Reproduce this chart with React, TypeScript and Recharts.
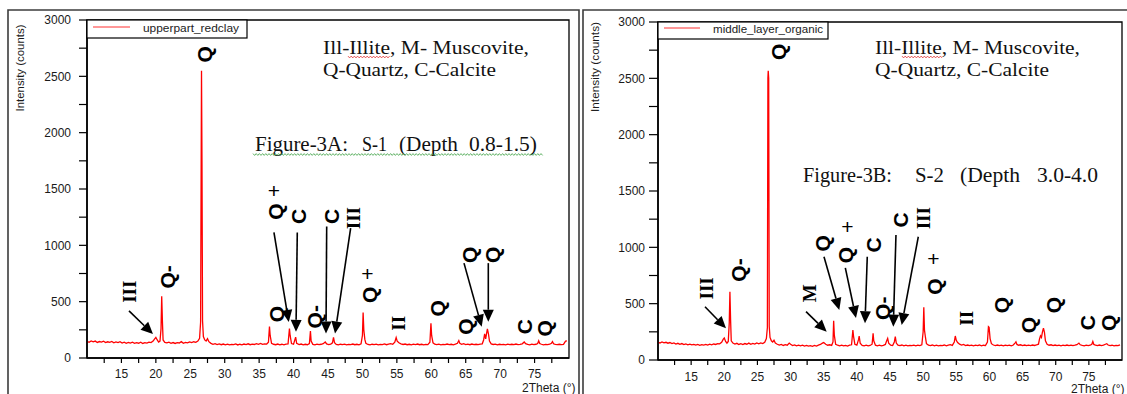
import React from 'react';
import { LineChart, Line, XAxis, YAxis, ReferenceArea, ReferenceDot, ReferenceLine } from 'recharts';

// ---- data: [2theta, counts] ----
const redclayPattern: [number, number][] = [
  [10.0, 148], [10.3, 140], [10.6, 152], [10.9, 143], [11.2, 150], [11.5, 138], [11.8, 146], [12.1, 141],
  [12.4, 149], [12.7, 137], [13.0, 144], [13.3, 139], [13.6, 147], [13.9, 135], [14.2, 142], [14.5, 136],
  [14.8, 144], [15.1, 133], [15.4, 140], [15.7, 131], [16.0, 139], [16.3, 132], [16.6, 140], [16.9, 130],
  [17.2, 137], [17.5, 131], [17.8, 140], [18.1, 129], [18.4, 136], [18.7, 132], [19.0, 141], [19.3, 137],
  [19.6, 150], [19.8, 168], [20.0, 182], [20.2, 160], [20.4, 142], [20.6, 150], [20.75, 260], [20.85, 548],
  [20.95, 330], [21.05, 160], [21.3, 138], [21.6, 134], [21.9, 141], [22.2, 130], [22.5, 137], [22.8, 129],
  [23.1, 136], [23.4, 133], [23.7, 145], [24.0, 131], [24.3, 138], [24.6, 134], [24.9, 142], [25.2, 136],
  [25.5, 144], [25.8, 139], [26.1, 150], [26.35, 175], [26.5, 320], [26.58, 1720], [26.63, 2550], [26.7, 1720],
  [26.78, 330], [26.9, 190], [27.1, 160], [27.3, 150], [27.5, 172], [27.7, 145], [28.0, 130], [28.3, 122],
  [28.6, 127], [28.9, 119], [29.2, 125], [29.5, 118], [29.8, 124], [30.1, 117], [30.4, 123], [30.7, 116],
  [31.0, 121], [31.3, 118], [31.6, 125], [31.9, 116], [32.2, 122], [32.5, 117], [32.8, 124], [33.1, 119],
  [33.4, 126], [33.7, 118], [34.0, 123], [34.3, 120], [34.6, 128], [34.9, 122], [35.2, 130], [35.5, 121],
  [35.8, 126], [36.1, 124], [36.35, 140], [36.5, 280], [36.6, 200], [36.8, 130], [37.1, 122], [37.4, 118],
  [37.7, 124], [38.0, 117], [38.3, 122], [38.6, 116], [38.9, 123], [39.2, 125], [39.4, 262], [39.5, 200],
  [39.7, 128], [40.0, 122], [40.3, 185], [40.45, 130], [40.8, 119], [41.1, 124], [41.4, 117], [41.7, 122],
  [42.0, 118], [42.3, 128], [42.45, 240], [42.55, 150], [42.8, 121], [43.1, 117], [43.4, 123], [43.7, 118],
  [44.0, 122], [44.3, 127], [44.6, 142], [44.8, 125], [45.1, 119], [45.4, 124], [45.65, 135], [45.8, 182],
  [45.95, 135], [46.2, 120], [46.5, 116], [46.8, 122], [47.1, 118], [47.4, 123], [47.7, 117], [48.0, 121],
  [48.3, 119], [48.6, 124], [48.9, 118], [49.2, 122], [49.5, 117], [49.8, 125], [50.0, 200], [50.1, 403],
  [50.2, 250], [50.35, 165], [50.5, 130], [50.8, 120], [51.1, 116], [51.4, 122], [51.7, 118], [52.0, 123],
  [52.3, 117], [52.6, 121], [52.9, 119], [53.2, 125], [53.5, 118], [53.8, 123], [54.1, 127], [54.4, 122],
  [54.7, 140], [54.9, 182], [55.05, 150], [55.3, 135], [55.6, 126], [55.9, 120], [56.2, 124], [56.5, 118],
  [56.8, 122], [57.1, 117], [57.4, 123], [57.7, 119], [58.0, 124], [58.3, 118], [58.6, 122], [58.9, 117],
  [59.2, 121], [59.5, 119], [59.8, 140], [59.95, 308], [60.05, 200], [60.25, 135], [60.5, 122], [60.8, 118],
  [61.1, 123], [61.4, 117], [61.7, 121], [62.0, 118], [62.3, 124], [62.6, 119], [62.9, 122], [63.2, 117],
  [63.5, 123], [63.8, 130], [64.0, 155], [64.15, 130], [64.4, 122], [64.7, 127], [65.0, 119], [65.3, 123],
  [65.6, 118], [65.9, 124], [66.2, 119], [66.5, 122], [66.8, 118], [67.1, 123], [67.4, 126], [67.6, 160],
  [67.75, 215], [67.9, 170], [68.05, 225], [68.15, 258], [68.3, 215], [68.45, 150], [68.7, 125], [69.0, 120],
  [69.3, 123], [69.6, 117], [69.9, 122], [70.2, 118], [70.5, 121], [70.8, 117], [71.1, 123], [71.4, 118],
  [71.7, 122], [72.0, 119], [72.3, 124], [72.6, 118], [72.9, 121], [73.2, 126], [73.5, 142], [73.7, 128],
  [74.0, 121], [74.3, 117], [74.6, 123], [74.9, 118], [75.2, 122], [75.45, 128], [75.6, 152], [75.75, 128],
  [76.0, 122], [76.3, 117], [76.6, 121], [76.9, 118], [77.2, 122], [77.45, 130], [77.6, 146], [77.75, 126],
  [78.0, 120], [78.3, 118], [78.6, 122], [78.9, 119], [79.2, 121], [79.5, 150], [79.7, 152],
];

const organicPattern: [number, number][] = [
  [10.0, 158], [10.3, 150], [10.6, 160], [10.9, 152], [11.2, 157], [11.5, 149], [11.8, 155], [12.1, 146],
  [12.4, 152], [12.7, 141], [13.0, 148], [13.3, 139], [13.6, 146], [13.9, 137], [14.2, 143], [14.5, 135],
  [14.8, 141], [15.1, 134], [15.4, 139], [15.7, 132], [16.0, 138], [16.3, 131], [16.6, 137], [16.9, 133],
  [17.2, 139], [17.5, 132], [17.8, 140], [18.1, 135], [18.4, 142], [18.7, 138], [19.0, 146], [19.3, 144],
  [19.6, 158], [19.85, 185], [20.0, 195], [20.2, 165], [20.4, 150], [20.6, 165], [20.75, 330], [20.85, 606],
  [20.95, 360], [21.05, 170], [21.3, 150], [21.6, 141], [21.9, 148], [22.2, 138], [22.5, 145], [22.8, 137],
  [23.1, 146], [23.4, 140], [23.7, 150], [24.0, 139], [24.3, 147], [24.6, 141], [24.9, 151], [25.2, 143],
  [25.5, 152], [25.8, 146], [26.1, 158], [26.35, 190], [26.5, 287], [26.58, 2500], [26.63, 2568], [26.7, 2500],
  [26.78, 300], [26.9, 200], [27.1, 170], [27.3, 160], [27.5, 175], [27.7, 150], [28.0, 140], [28.3, 132],
  [28.6, 138], [28.9, 129], [29.2, 136], [29.5, 131], [29.8, 150], [30.0, 140], [30.3, 128], [30.6, 134],
  [30.9, 126], [31.2, 132], [31.5, 125], [31.8, 131], [32.1, 124], [32.4, 130], [32.7, 123], [33.0, 128],
  [33.3, 122], [33.6, 129], [33.9, 124], [34.2, 132], [34.5, 138], [34.8, 150], [35.0, 155], [35.3, 140],
  [35.6, 131], [35.9, 135], [36.2, 130], [36.4, 160], [36.5, 349], [36.6, 220], [36.8, 140], [37.1, 131],
  [37.4, 126], [37.7, 132], [38.0, 125], [38.3, 130], [38.6, 124], [38.9, 131], [39.2, 135], [39.4, 266],
  [39.5, 210], [39.7, 140], [40.0, 132], [40.25, 180], [40.35, 213], [40.5, 150], [40.8, 130], [41.1, 126],
  [41.4, 132], [41.7, 125], [42.0, 129], [42.3, 140], [42.45, 237], [42.55, 170], [42.8, 132], [43.1, 126],
  [43.4, 131], [43.7, 125], [44.0, 130], [44.3, 138], [44.5, 170], [44.65, 192], [44.8, 150], [45.1, 131],
  [45.4, 128], [45.65, 160], [45.8, 207], [45.95, 150], [46.2, 131], [46.5, 127], [46.8, 133], [47.1, 126],
  [47.4, 131], [47.7, 125], [48.0, 130], [48.3, 127], [48.6, 132], [48.9, 126], [49.2, 131], [49.5, 127],
  [49.8, 134], [50.0, 250], [50.1, 467], [50.2, 266], [50.35, 200], [50.5, 145], [50.8, 132], [51.1, 127],
  [51.4, 133], [51.7, 126], [52.0, 131], [52.3, 125], [52.6, 130], [52.9, 127], [53.2, 133], [53.5, 126],
  [53.8, 131], [54.1, 136], [54.4, 130], [54.7, 160], [54.85, 213], [55.0, 175], [55.2, 155], [55.5, 140],
  [55.8, 133], [56.1, 138], [56.4, 128], [56.7, 133], [57.0, 127], [57.3, 132], [57.6, 126], [57.9, 131],
  [58.2, 127], [58.5, 133], [58.8, 126], [59.1, 131], [59.4, 128], [59.7, 160], [59.85, 296], [59.95, 290],
  [60.1, 190], [60.3, 145], [60.6, 133], [60.9, 128], [61.2, 133], [61.5, 127], [61.8, 131], [62.1, 126],
  [62.4, 132], [62.7, 127], [63.0, 131], [63.3, 126], [63.6, 133], [63.85, 150], [64.0, 161], [64.15, 138],
  [64.4, 131], [64.7, 135], [65.0, 128], [65.3, 133], [65.6, 127], [65.9, 132], [66.2, 128], [66.5, 133],
  [66.8, 129], [67.1, 134], [67.4, 140], [67.55, 185], [67.7, 215], [67.85, 200], [68.0, 250], [68.15, 282],
  [68.3, 245], [68.45, 170], [68.7, 140], [69.0, 131], [69.3, 135], [69.6, 128], [69.9, 133], [70.2, 127],
  [70.5, 132], [70.8, 126], [71.1, 131], [71.4, 127], [71.7, 133], [72.0, 128], [72.3, 132], [72.6, 127],
  [72.9, 131], [73.2, 136], [73.5, 150], [73.7, 135], [74.0, 130], [74.3, 126], [74.6, 132], [74.9, 127],
  [75.2, 131], [75.45, 140], [75.6, 165], [75.75, 138], [76.0, 131], [76.3, 127], [76.6, 133], [76.9, 128],
  [77.2, 132], [77.5, 140], [77.7, 145], [77.9, 133], [78.2, 128], [78.5, 131], [78.8, 126], [79.1, 130],
  [79.4, 128], [79.7, 135],
];

const xTicks = [12.5, 15, 17.5, 20, 22.5, 25, 27.5, 30, 32.5, 35, 37.5, 40, 42.5, 45, 47.5, 50, 52.5, 55, 57.5, 60, 62.5, 65, 67.5, 70, 72.5, 75, 77.5];
const xTickLabels = [15, 20, 25, 30, 35, 40, 45, 50, 55, 60, 65, 70, 75];
const yTicks = [0, 250, 500, 750, 1000, 1250, 1500, 1750, 2000, 2250, 2500, 2750, 3000];
const yTickLabels = [0, 500, 1000, 1500, 2000, 2500, 3000];

type PeakLabel = { text: string; x: number; y: number; kind: 'sans' | 'serif' | 'plus' };
type Arrow = { x1: number; y1: number; x2: number; y2: number };

const redclayLabels: PeakLabel[] = [
  { text: 'III', x: 16.24, y: 588, kind: 'serif' },
  { text: 'Q-', x: 21.7, y: 720, kind: 'sans' },
  { text: 'Q', x: 27.0, y: 2695, kind: 'sans' },
  { text: '+', x: 37.15, y: 1488, kind: 'plus' },
  { text: 'Q', x: 37.35, y: 1300, kind: 'sans' },
  { text: 'C', x: 40.68, y: 1256, kind: 'sans' },
  { text: 'C', x: 45.53, y: 1256, kind: 'sans' },
  { text: 'III', x: 48.68, y: 1242, kind: 'serif' },
  { text: 'Q', x: 37.55, y: 390, kind: 'sans' },
  { text: 'Q-', x: 43.11, y: 366, kind: 'sans' },
  { text: '+', x: 50.71, y: 746, kind: 'plus' },
  { text: 'Q', x: 51.0, y: 560, kind: 'sans' },
  { text: 'II', x: 55.31, y: 308, kind: 'serif' },
  { text: 'Q', x: 60.87, y: 440, kind: 'sans' },
  { text: 'Q', x: 65.0, y: 278, kind: 'sans' },
  { text: 'Q', x: 65.62, y: 915, kind: 'sans' },
  { text: 'Q', x: 68.91, y: 915, kind: 'sans' },
  { text: 'C', x: 73.61, y: 278, kind: 'sans' },
  { text: 'Q', x: 76.41, y: 263, kind: 'sans' },
];

const redclayArrows: Arrow[] = [
  { x1: 16.1, y1: 418, x2: 19.58, y2: 212 },
  { x1: 37.15, y1: 1114, x2: 39.3, y2: 320 },
  { x1: 40.54, y1: 1114, x2: 40.35, y2: 232 },
  { x1: 44.81, y1: 1168, x2: 44.71, y2: 218 },
  { x1: 48.29, y1: 1153, x2: 46.02, y2: 218 },
  { x1: 64.75, y1: 842, x2: 67.32, y2: 278 },
  { x1: 68.28, y1: 842, x2: 68.28, y2: 322 },
];

const organicLabels: PeakLabel[] = [
  { text: 'III', x: 17.35, y: 636, kind: 'serif' },
  { text: 'Q-', x: 22.11, y: 799, kind: 'sans' },
  { text: 'Q', x: 28.15, y: 2736, kind: 'sans' },
  { text: 'M', x: 32.83, y: 592, kind: 'serif' },
  { text: 'Q', x: 34.85, y: 1036, kind: 'sans' },
  { text: '+', x: 38.56, y: 1189, kind: 'plus' },
  { text: 'Q', x: 38.26, y: 932, kind: 'sans' },
  { text: 'C', x: 42.58, y: 1021, kind: 'sans' },
  { text: 'Q-', x: 43.84, y: 459, kind: 'sans' },
  { text: 'C', x: 46.51, y: 1243, kind: 'sans' },
  { text: 'III', x: 50.02, y: 1258, kind: 'serif' },
  { text: '+', x: 51.53, y: 903, kind: 'plus' },
  { text: 'Q', x: 51.79, y: 651, kind: 'sans' },
  { text: 'II', x: 56.57, y: 370, kind: 'serif' },
  { text: 'Q', x: 61.85, y: 488, kind: 'sans' },
  { text: 'Q', x: 65.86, y: 311, kind: 'sans' },
  { text: 'Q', x: 69.63, y: 488, kind: 'sans' },
  { text: 'C', x: 74.76, y: 331, kind: 'sans' },
  { text: 'Q', x: 77.93, y: 331, kind: 'sans' },
];

const organicArrows: Arrow[] = [
  { x1: 17.09, y1: 473, x2: 20.26, y2: 281 },
  { x1: 32.33, y1: 429, x2: 35.45, y2: 251 },
  { x1: 35.04, y1: 917, x2: 37.35, y2: 444 },
  { x1: 38.26, y1: 817, x2: 39.87, y2: 373 },
  { x1: 41.57, y1: 917, x2: 41.23, y2: 326 },
  { x1: 45.9, y1: 1109, x2: 45.5, y2: 296 },
  { x1: 49.27, y1: 1094, x2: 46.76, y2: 311 },
];

const SANS = '"Liberation Sans", Arial, sans-serif';
const SERIF = '"Liberation Serif", "Times New Roman", serif';

const makeLabelShape = (lab: PeakLabel) => (p: any) => {
  const cx = Number(p.cx);
  const cy = Number(p.cy);
  if (lab.kind === 'plus') {
    return (
      <text x={cx} y={cy} textAnchor="middle" dominantBaseline="central" fontFamily={SANS} fontSize={21} fill="#000">
        {lab.text}
      </text>
    );
  }
  const serif = lab.kind === 'serif';
  return (
    <text
      x={cx}
      y={cy}
      transform={`rotate(-90 ${cx} ${cy})`}
      textAnchor="middle"
      dominantBaseline="central"
      fontFamily={serif ? SERIF : SANS}
      fontWeight="bold"
      fontSize={serif ? 19 : 21}
      fill="#000"
    >
      {lab.text}
    </text>
  );
};

const arrowShape = (p: any) => {
  const x1 = Number(p.x1), y1 = Number(p.y1), x2 = Number(p.x2), y2 = Number(p.y2);
  const dx = x2 - x1, dy = y2 - y1;
  const L = Math.hypot(dx, dy) || 1;
  const ux = dx / L, uy = dy / L;
  const hl = 12, hw = 5.5;
  const bx = x2 - ux * hl, by = y2 - uy * hl;
  const pts = `${x2},${y2} ${bx - uy * hw},${by + ux * hw} ${bx + uy * hw},${by - ux * hw}`;
  return (
    <g>
      <line x1={x1} y1={y1} x2={bx} y2={by} stroke="#000" strokeWidth={1.6} />
      <polygon points={pts} fill="#000" />
    </g>
  );
};

type PanelProps = {
  pattern: [number, number][];
  labels: PeakLabel[];
  arrows: Arrow[];
  left: number;
  top: number;
  width: number;
  height: number;
  margin: { top: number; right: number; bottom: number; left: number };
  yTickSize: number;
  yTickMargin: number;
  xTickMargin: number;
};

const Panel = ({ pattern, labels, arrows, left, top, width, height, margin, yTickSize, yTickMargin, xTickMargin }: PanelProps) => {
  const data = pattern.map(([t, c]) => ({ t, c }));
  const tickStyle = { fill: '#1a1a1a', fontSize: 12, fontFamily: SANS };
  return (
    <div style={{ position: 'absolute', left, top, width, height }}>
      <LineChart width={width} height={height} data={data} margin={margin}>
        <XAxis
          type="number"
          dataKey="t"
          domain={[10, 80]}
          ticks={xTicks}
          interval={0}
          allowDataOverflow
          tickFormatter={(v: number) => (xTickLabels.includes(v) ? String(v) : '')}
          tickSize={5}
          tickMargin={xTickMargin}
          height={30}
          axisLine={{ stroke: '#000', strokeWidth: 1.6 }}
          tickLine={{ stroke: '#000', strokeWidth: 1.2 }}
          tick={tickStyle}
        />
        <YAxis
          type="number"
          domain={[0, 3000]}
          ticks={yTicks}
          interval={0}
          allowDataOverflow
          tickFormatter={(v: number) => (yTickLabels.includes(v) ? String(v) : '')}
          tickSize={yTickSize}
          tickMargin={yTickMargin}
          width={40}
          axisLine={{ stroke: '#000', strokeWidth: 1.6 }}
          tickLine={{ stroke: '#000', strokeWidth: 1.2 }}
          tick={tickStyle}
        />
        <ReferenceArea x1={10} x2={80} y1={0} y2={3000} fill="none" fillOpacity={0} stroke="#000" strokeWidth={1.3} />
        <Line
          type="linear"
          dataKey="c"
          stroke="#ff0000"
          strokeWidth={1.3}
          dot={false}
          activeDot={false}
          isAnimationActive={false}
        />
        {arrows.map((a, i) => (
          <ReferenceLine
            key={'a' + i}
            segment={[{ x: a.x1, y: a.y1 }, { x: a.x2, y: a.y2 }]}
            shape={arrowShape}
            ifOverflow="visible"
          />
        ))}
        {labels.map((lab, i) => (
          <ReferenceDot key={'l' + i} x={lab.x} y={lab.y} r={1} shape={makeLabelShape(lab)} ifOverflow="visible" />
        ))}
      </LineChart>
    </div>
  );
};

const wavy = (x0: number, x1: number, y: number) => {
  const pts: string[] = [];
  let up = true;
  for (let x = x0; x <= x1; x += 1.6) {
    pts.push(`${x.toFixed(1)},${(up ? y - 0.9 : y + 0.9).toFixed(1)}`);
    up = !up;
  }
  return pts.join(' ');
};

const Overlay = () => (
  <svg width={1127} height={394} style={{ position: 'absolute', left: 0, top: 0, pointerEvents: 'none' }}>
    {/* panel frames */}
    <path d="M8 394 V10 H579 V394" fill="none" stroke="#3c3c3c" strokeWidth={1.6} />
    <path d="M583 394 V10 H1127" fill="none" stroke="#3c3c3c" strokeWidth={1.6} />

    {/* legends */}
    <rect x={87} y={20} width={160} height={18} fill="#fff" stroke="#000" strokeWidth={1.2} />
    <line x1={93} y1={27} x2={130} y2={27} stroke="#ff3030" strokeWidth={1} />
    <text x={143} y={31.5} fontFamily={SANS} fontSize={11.5} fill="#222" textLength={96} lengthAdjust="spacingAndGlyphs">upperpart_redclay</text>
    <rect x={658} y={22} width={170} height={17} fill="#fff" stroke="#000" strokeWidth={1.2} />
    <line x1={664} y1={28} x2={700} y2={28} stroke="#ff3030" strokeWidth={1} />
    <text x={713} y={32.5} fontFamily={SANS} fontSize={11.5} fill="#222" textLength={110} lengthAdjust="spacingAndGlyphs">middle_layer_organic</text>

    {/* axis titles */}
    <text transform="translate(24 68) rotate(-90)" textAnchor="middle" fontFamily={SANS} fontSize={11.5} fill="#1a1a1a" textLength={87} lengthAdjust="spacingAndGlyphs">Intensity (counts)</text>
    <text transform="translate(599 67) rotate(-90)" textAnchor="middle" fontFamily={SANS} fontSize={11.5} fill="#1a1a1a" textLength={90} lengthAdjust="spacingAndGlyphs">Intensity (counts)</text>
    <text x={522} y={392} fontFamily={SANS} fontSize={12} fill="#1a1a1a">2Theta (°)</text>
    <text x={1071} y={392.5} fontFamily={SANS} fontSize={12} fill="#1a1a1a">2Theta (°)</text>

    {/* mineral key, left */}
    <text x={323} y={54} fontFamily={SERIF} fontSize={19} fill="#111" textLength={206} lengthAdjust="spacingAndGlyphs">Ill-Illite, M- Muscovite,</text>
    <text x={323} y={76} fontFamily={SERIF} fontSize={19} fill="#111" textLength={173} lengthAdjust="spacingAndGlyphs">Q-Quartz, C-Calcite</text>
    <polyline points={wavy(348, 391, 57)} fill="none" stroke="#e03030" strokeWidth={0.8} />
    <text y={151} fontFamily={SERIF} fontSize={20} fill="#111">
      <tspan x={255} textLength={93} lengthAdjust="spacingAndGlyphs">Figure-3A:</tspan>
      <tspan x={362} textLength={25} lengthAdjust="spacingAndGlyphs">S-1</tspan>
      <tspan x={399} textLength={59} lengthAdjust="spacingAndGlyphs">(Depth</tspan>
      <tspan x={469} textLength={68} lengthAdjust="spacingAndGlyphs">0.8-1.5)</tspan>
    </text>
    <polyline points={wavy(253, 543, 154.5)} fill="none" stroke="#3aa040" strokeWidth={0.8} />

    {/* mineral key, right */}
    <text x={875} y={54} fontFamily={SERIF} fontSize={19} fill="#111" textLength={205} lengthAdjust="spacingAndGlyphs">Ill-Illite, M- Muscovite,</text>
    <text x={875} y={76} fontFamily={SERIF} fontSize={19} fill="#111" textLength={174} lengthAdjust="spacingAndGlyphs">Q-Quartz, C-Calcite</text>
    <polyline points={wavy(902, 943, 57)} fill="none" stroke="#e03030" strokeWidth={0.8} />
    <text y={182} fontFamily={SERIF} fontSize={20} fill="#111">
      <tspan x={803} textLength={89} lengthAdjust="spacingAndGlyphs">Figure-3B:</tspan>
      <tspan x={915} textLength={29} lengthAdjust="spacingAndGlyphs">S-2</tspan>
      <tspan x={960} textLength={60} lengthAdjust="spacingAndGlyphs">(Depth</tspan>
      <tspan x={1037} textLength={61} lengthAdjust="spacingAndGlyphs">3.0-4.0</tspan>
    </text>
  </svg>
);

export default function App() {
  return (
    <div style={{ position: 'absolute', left: 0, top: 0, width: 1127, height: 394, background: '#fff', overflow: 'hidden' }}>
      <Panel
        pattern={redclayPattern}
        labels={redclayLabels}
        arrows={redclayArrows}
        left={8}
        top={10}
        width={571}
        height={384}
        margin={{ top: 10, right: 10, bottom: 6, left: 39 }}
        yTickSize={8}
        yTickMargin={8}
        xTickMargin={6}
      />
      <Panel
        pattern={organicPattern}
        labels={organicLabels}
        arrows={organicArrows}
        left={583}
        top={10}
        width={544}
        height={384}
        margin={{ top: 12, right: 5, bottom: 4, left: 35 }}
        yTickSize={9}
        yTickMargin={4}
        xTickMargin={7}
      />
      <Overlay />
    </div>
  );
}
